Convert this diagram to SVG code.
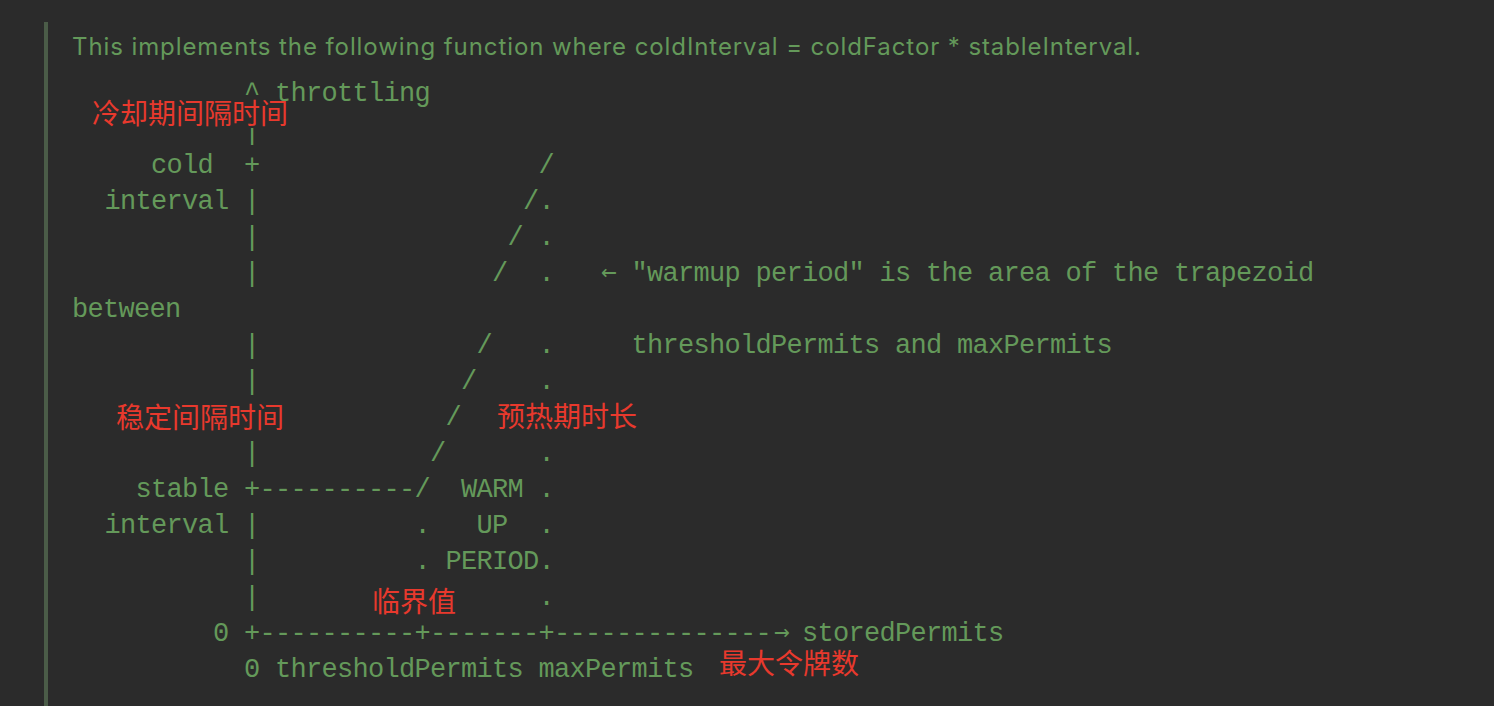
<svg xmlns="http://www.w3.org/2000/svg" width="1494" height="706" viewBox="0 0 1494 706" xml:space="preserve">
<style>
.bg{fill:#2b2b2b}
.m{font-family:"Liberation Mono","DejaVu Sans Mono",monospace;font-size:27px;letter-spacing:-0.7px;fill:#64995a;white-space:pre}
.a{font-family:"DejaVu Sans Mono",monospace;font-size:26px;fill:#64995a}
.s{font-family:Inter,"Liberation Sans",sans-serif;font-size:24px;fill:#64995a}
.r{font-family:"Noto Sans CJK SC",sans-serif;font-size:28px;fill:#e8392d;font-weight:400}
.cv{fill:#2b2b2b}
</style>
<rect class="bg" x="0" y="0" width="1494" height="706"/>
<rect x="44" y="22" width="4" height="684" fill="#4b5c48"/>
<text class="s" x="72" y="55" textLength="1069" lengthAdjust="spacing">This implements the following function where coldInterval = coldFactor * stableInterval.</text>
<g id="chart">
<text class="m" x="244" y="101">^ throttling</text>
<text class="m" x="244" y="139">|</text>
<text class="m" x="151" y="173">cold  +                  /</text>
<text class="m" x="104.5" y="209">interval |                 /.</text>
<text class="m" x="244" y="245">|                / .</text>
<text class="m" x="244" y="281">|               /  .</text>
<text class="a" x="601" y="280">←</text>
<text class="m" x="631.5" y="281">"warmup period" is the area of the trapezoid</text>
<text class="m" x="72" y="317">between</text>
<text class="m" x="244" y="353">|              /   .</text>
<text class="m" x="631.5" y="353">thresholdPermits and maxPermits</text>
<text class="m" x="244" y="389">|             /    .</text>
<text class="m" x="445.5" y="425">/</text>
<text class="m" x="244" y="461">|           /      .</text>
<text class="m" x="135.5" y="497">stable +----------/  WARM .</text>
<text class="m" x="104.5" y="533">interval |          .   UP  .</text>
<text class="m" x="244" y="569">|          . PERIOD.</text>
<text class="m" x="244" y="605">|</text>
<text class="m" x="538.5" y="605">.</text>
<text class="m" x="213" y="641">0 +----------+-------+--------------</text>
<text class="a" x="774" y="640">→</text>
<text class="m" x="802" y="641">storedPermits</text>
<text class="m" x="244" y="677">0 thresholdPermits maxPermits</text>
</g>
<g id="label-cold">
<rect class="cv" x="90" y="104" width="202" height="24"/>
<text class="r" x="92" y="124">冷却期间隔时间</text>
</g>
<g id="label-stable">
<text class="r" x="116" y="428">稳定间隔时间</text>
</g>
<g id="label-warmup">
<text class="r" x="497" y="427">预热期时长</text>
</g>
<g id="label-threshold">
<text class="r" x="372" y="612">临界值</text>
</g>
<g id="label-max">
<text class="r" x="719" y="674">最大令牌数</text>
</g>
</svg>
